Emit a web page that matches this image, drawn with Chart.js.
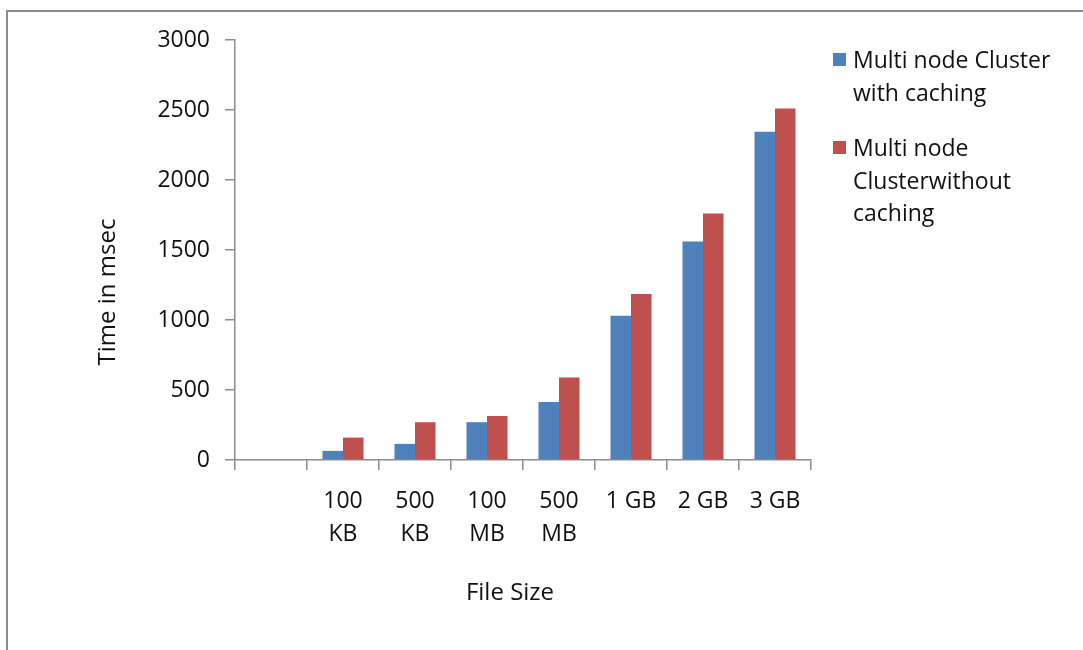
<!DOCTYPE html>
<html>
<head>
<meta charset="utf-8">
<script src="https://cdn.jsdelivr.net/npm/chart.js@4/dist/chart.umd.min.js"></script>
<style>
  html, body { margin: 0; padding: 0; background: #fff; overflow: hidden; }
  #wrap { position: relative; width: 1083px; height: 650px; }
  #frame { position: absolute; left: 6px; top: 10px; width: 1200px; height: 800px; border: 2px solid #8c8c8c; }
  #myChart { position: absolute; left: 0; top: 0; }
  #legend { position: absolute; left: 833px; top: 43px; font-family: "Open Sans", sans-serif; font-size: 23px; color: #111; }
  .item { position: relative; padding-left: 20px; line-height: 32.5px; margin-bottom: 23px; white-space: nowrap; }
  .box { position: absolute; left: 0; top: 10px; width: 13px; height: 13px; }
</style>
</head>
<body>
<div id="wrap">
  <div id="frame"></div>
  <canvas id="myChart" width="1083" height="650"></canvas>
  <div id="legend"></div>
</div>
<script>
var fileSizes = ["", ["100", "KB"], ["500", "KB"], ["100", "MB"], ["500", "MB"], "1 GB", "2 GB", "3 GB"];
var withCaching = [null, 65, 115, 270, 415, 1030, 1560, 2345];
var withoutCaching = [null, 160, 270, 315, 590, 1185, 1760, 2510];
var seriesNames = ["Multi node Cluster with caching", "Multi node Clusterwithout caching"];
var legendLines = [["Multi node Cluster", "with caching"], ["Multi node", "Clusterwithout", "caching"]];
var yTicks = [0, 500, 1000, 1500, 2000, 2500, 3000];

var FONT = "Open Sans";
var AXIS = '#8c8c8c';

// axis titles drawn by hand so they can sit off-centre like the original
var axisTitles = {
    id: 'axisTitles',
    afterDraw: function (chart) {
        var c = chart.ctx;
        c.save();
        c.fillStyle = '#111';
        c.font = '24px "' + FONT + '"';
        c.textAlign = 'center';
        c.textBaseline = 'middle';
        c.fillText('File Size', 510, 593);
        c.translate(108, 292);
        c.rotate(-Math.PI / 2);
        c.fillText('Time in msec', 0, 0);
        c.restore();
    }
};

document.addEventListener('DOMContentLoaded', function () {
    var ctx = document.getElementById("myChart").getContext('2d');
    var myChart = new Chart(ctx, {
        type: 'bar',
        data: {
            labels: fileSizes,
            datasets: [{
                label: seriesNames[0],
                data: withCaching,
                backgroundColor: '#4f81bd',
                borderWidth: 0
            }, {
                label: seriesNames[1],
                data: withoutCaching,
                backgroundColor: '#c0504d',
                borderWidth: 0
            }]
        },
        options: {
            responsive: false,
            animation: false,
            categoryPercentage: 0.57,
            barPercentage: 1.0,
            layout: {
                padding: { left: 0, right: 272, top: 40, bottom: 0 }
            },
            plugins: {
                legend: { display: false },
                tooltip: { enabled: false }
            },
            scales: {
                x: {
                    grid: { drawOnChartArea: false, color: AXIS, tickLength: 10, lineWidth: 1.5 },
                    border: { color: AXIS, width: 1.5 },
                    ticks: {
                        color: '#111',
                        padding: 15,
                        maxRotation: 0,
                        autoSkip: false,
                        font: { family: FONT, size: 23, lineHeight: 1.42 }
                    },
                    afterFit: function (scale) { scale.height = 190; }
                },
                y: {
                    min: 0,
                    max: 3000,
                    afterBuildTicks: function (scale) {
                        scale.ticks = yTicks.map(function (v) { return { value: v }; });
                    },
                    grid: { drawOnChartArea: false, color: AXIS, tickLength: 10, lineWidth: 1.5 },
                    border: { color: AXIS, width: 1.5 },
                    ticks: {
                        color: '#111',
                        padding: 15,
                        font: { family: FONT, size: 23 },
                        callback: function (v) { return String(v); }
                    },
                    afterFit: function (scale) { scale.width = 235; }
                }
            }
        },
        plugins: [axisTitles]
    });

    // legend beside the plot, wrapped the same way as the series names
    var legend = document.getElementById('legend');
    myChart.data.datasets.forEach(function (ds, i) {
        var item = document.createElement('div');
        item.className = 'item';
        var box = document.createElement('span');
        box.className = 'box';
        box.style.background = ds.backgroundColor;
        item.appendChild(box);
        legendLines[i].forEach(function (line, j) {
            if (j > 0) item.appendChild(document.createElement('br'));
            item.appendChild(document.createTextNode(line));
        });
        legend.appendChild(item);
    });
});
</script>
</body>
</html>
